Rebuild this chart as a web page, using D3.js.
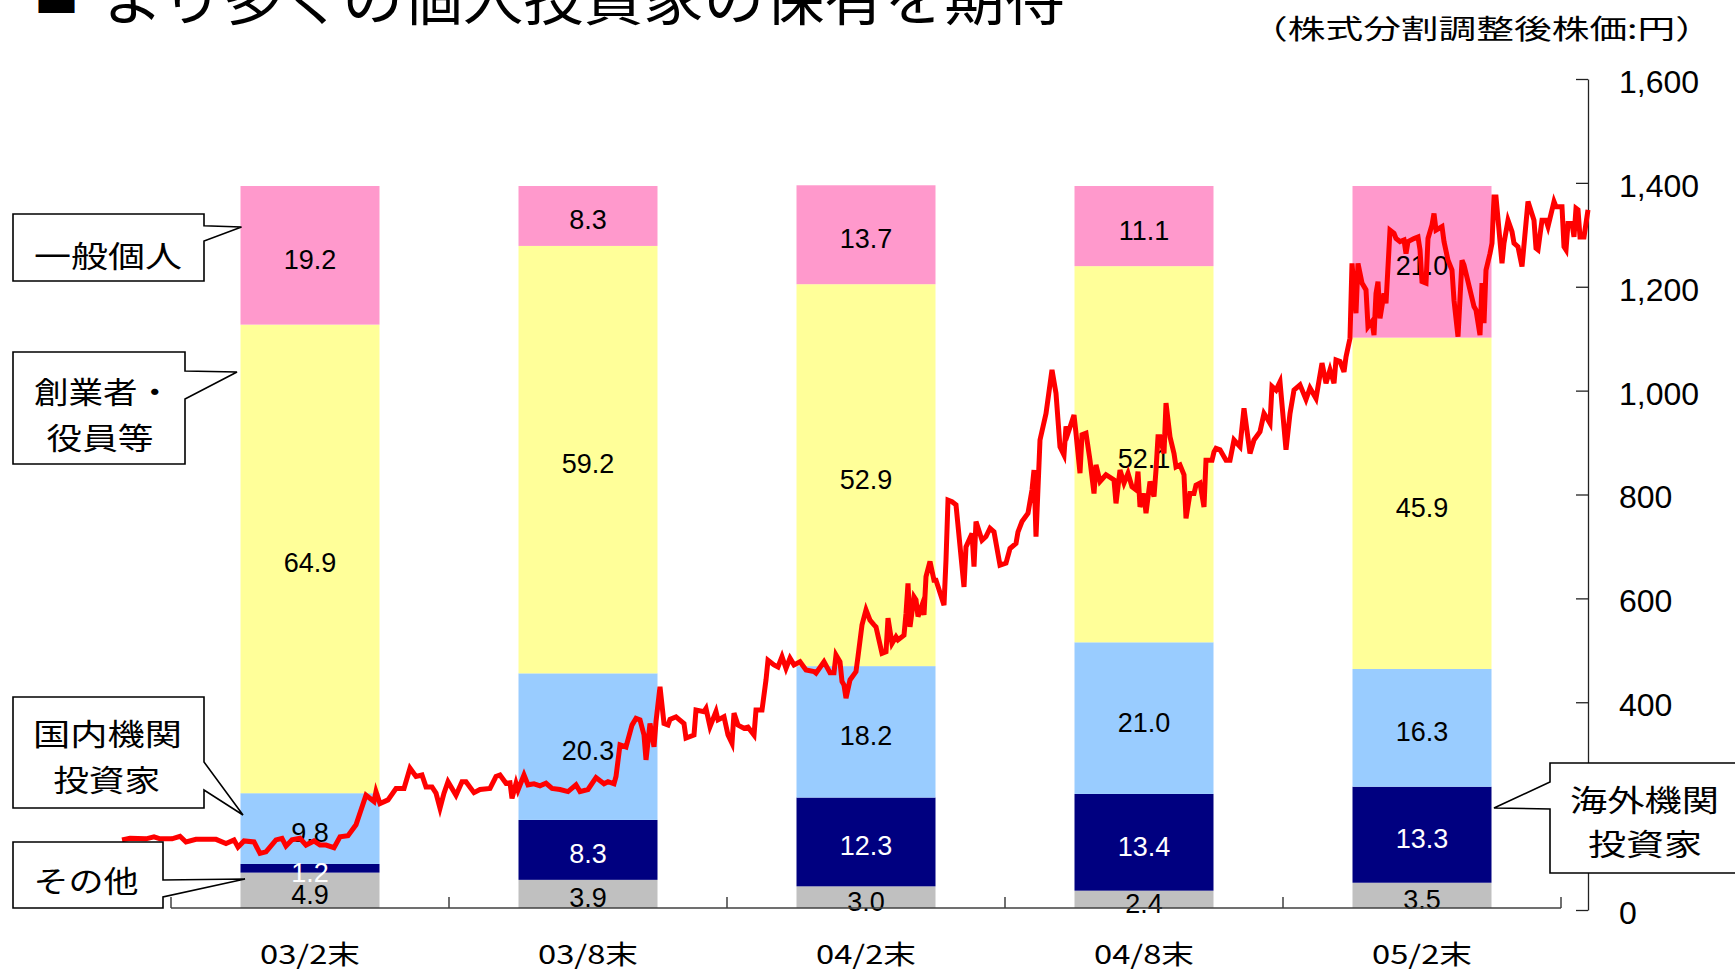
<!DOCTYPE html>
<html>
<head>
<meta charset="utf-8">
<script src="https://cdn.jsdelivr.net/npm/d3@7"></script>
<style>
body { margin: 0; background: #fff; }
svg { display: block; }
.cjk { font-family: "Noto Sans CJK JP", sans-serif; }
.num { font-family: "Liberation Sans", Arial, sans-serif; }
</style>
</head>
<body>
<svg id="chart" width="1735" height="970"></svg>
<script>
// shareholder composition (%), bottom to top
const categories = ["03/2末", "03/8末", "04/2末", "04/8末", "05/2末"];
const shareOther = [4.9, 3.9, 3.0, 2.4, 3.5];
const shareForeign = [1.2, 8.3, 12.3, 13.4, 13.3];
const shareDomestic = [9.8, 20.3, 18.2, 21.0, 16.3];
const shareFounders = [64.9, 59.2, 52.9, 52.1, 45.9];
const shareIndividual = [19.2, 8.3, 13.7, 11.1, 21.0];

const seriesKeys = ["other", "foreign", "domestic", "founders", "individual"];
const seriesColors = ["#C0C0C0", "#000080", "#99CCFF", "#FFFF99", "#FF99CC"];

// split-adjusted share price (yen): [trading day, price]
const stockPrice = [[0,135],[4,138],[12,137],[16,141],[19,137],[25,137],[29,142],[32,131],[37,136],[47,136],[52,128],[56,135],[58,121],[61,133],[66,131],[69,109],[72,112],[77,135],[80,138],[82,123],[85,135],[89,138],[92,125],[96,133],[99,125],[102,125],[106,120],[109,141],[113,143],[117,164],[122,221],[126,209],[127,228],[129,205],[133,212],[137,234],[141,234],[144,273],[147,257],[150,260],[152,237],[155,237],[157,225],[159,196],[161,225],[163,247],[167,221],[170,247],[172,247],[176,226],[179,232],[184,234],[187,257],[189,260],[192,244],[194,245],[195,215],[197,244],[198,231],[201,260],[203,241],[206,243],[209,239],[212,244],[215,234],[219,232],[223,228],[227,241],[229,228],[233,232],[237,255],[241,243],[243,247],[246,243],[247,257],[249,318],[252,314],[255,356],[257,369],[259,366],[261,337],[262,289],[264,359],[266,314],[267,363],[269,430],[271,359],[273,356],[274,367],[277,372],[281,359],[282,331],[286,337],[287,385],[291,382],[292,388],[294,353],[297,382],[298,366],[301,372],[303,337],[305,321],[306,379],[308,356],[311,350],[313,352],[316,337],[317,385],[320,385],[322,443],[323,481],[326,472],[328,468],[330,488],[332,465],[334,485],[336,472],[339,478],[342,462],[346,459],[347,456],[351,478],[354,457],[356,457],[357,491],[359,478],[360,440],[361,433],[362,408],[364,443],[367,459],[368,488],[370,549],[372,578],[374,558],[376,549],[377,545],[380,494],[382,497],[383,562],[385,513],[387,526],[388,520],[391,529],[392,571],[393,629],[394,545],[396,603],[397,597],[398,565],[400,587],[401,568],[402,642],[404,671],[406,635],[407,635],[411,587],[412,674],[413,789],[415,786],[417,780],[421,622],[422,699],[425,725],[426,661],[427,748],[430,712],[432,719],[434,735],[436,728],[439,664],[442,668],[444,696],[447,706],[448,728],[450,748],[453,764],[455,809],[456,847],[457,719],[459,905],[462,956],[465,1040],[467,995],[469,892],[471,876],[472,931],[473,918],[476,953],[477,918],[479,841],[480,915],[482,918],[484,866],[486,802],[487,857],[489,825],[492,838],[496,828],[497,783],[499,847],[501,822],[503,841],[505,815],[507,809],[508,844],[509,776],[511,802],[512,764],[514,825],[516,796],[517,847],[518,911],[519,911],[521,879],[522,976],[524,911],[526,879],[527,853],[529,857],[531,838],[532,754],[534,802],[536,802],[537,818],[539,822],[541,776],[542,866],[545,866],[546,882],[547,889],[549,886],[552,866],[554,866],[556,905],[559,892],[561,966],[564,879],[566,905],[569,921],[571,956],[572,950],[574,937],[575,1008],[577,1001],[579,1017],[582,886],[584,956],[586,1001],[589,1011],[592,983],[594,1005],[597,985],[600,1053],[602,1014],[604,1040],[606,1014],[607,1059],[609,1056],[611,1036],[612,1065],[614,1101],[615,1245],[617,1149],[618,1245],[620,1207],[622,1194],[623,1123],[625,1133],[626,1107],[627,1187],[628,1210],[629,1139],[631,1187],[632,1168],[634,1309],[636,1303],[637,1293],[639,1287],[641,1290],[642,1264],[643,1287],[646,1293],[648,1296],[649,1271],[650,1210],[652,1207],[653,1293],[655,1319],[656,1341],[657,1309],[660,1316],[661,1287],[663,1251],[665,1232],[666,1174],[668,1104],[670,1251],[671,1242],[674,1194],[676,1162],[677,1155],[679,1107],[680,1207],[681,1130],[682,1232],[684,1264],[685,1284],[686,1373],[687,1373],[690,1245],[691,1284],[693,1328],[695,1306],[696,1284],[698,1277],[700,1239],[703,1364],[706,1328],[707,1274],[708,1271],[710,1328],[712,1328],[713,1316],[716,1364],[717,1354],[720,1354],[721,1277],[722,1271],[723,1322],[725,1322],[726,1296],[727,1351],[728,1348],[729,1296],[731,1296],[733,1348]];

const priceTicks = [0, 200, 400, 600, 800, 1000, 1200, 1400, 1600];

const svg = d3.select("#chart");

const x = d3.scaleBand().domain(categories).range([171, 1561]).paddingInner(0.5).paddingOuter(0.25);
const yPct = d3.scaleLinear().domain([0, 100]).range([908, 186]);
const yPrice = d3.scaleLinear().domain([0, 1600]).range([910, 79]);
const xDay = d3.scaleLinear().domain([0, 733]).range([122, 1588]);

const rows = categories.map((c, i) => ({
    cat: c,
    other: shareOther[i],
    foreign: shareForeign[i],
    domestic: shareDomestic[i],
    founders: shareFounders[i],
    individual: shareIndividual[i]
}));
const layers = d3.stack().keys(seriesKeys)(rows);

// bars
const layerG = svg.append("g").selectAll("g")
    .data(layers)
    .enter().append("g")
    .attr("fill", (d, i) => seriesColors[i]);

layerG.selectAll("rect")
    .data(d => d)
    .enter().append("rect")
    .attr("x", d => x(d.data.cat))
    .attr("y", d => yPct(d[1]))
    .attr("width", x.bandwidth())
    .attr("height", d => yPct(d[0]) - yPct(d[1]));

// value labels
layers.forEach(layer => {
    svg.append("g").selectAll("text")
        .data(layer)
        .enter().append("text")
        .attr("class", "num")
        .attr("x", d => x(d.data.cat) + x.bandwidth() / 2)
        .attr("y", d => (yPct(d[0]) + yPct(d[1])) / 2 + 13.5)
        .attr("text-anchor", "middle")
        .attr("font-size", 27)
        .attr("fill", layer.key === "foreign" ? "#fff" : "#000")
        .text(d => d3.format(".1f")(d.data[layer.key]));
});

// category axis
const xAxisG = svg.append("g");
xAxisG.append("line")
    .attr("x1", x.range()[0]).attr("x2", x.range()[1])
    .attr("y1", 908).attr("y2", 908)
    .attr("stroke", "#404040").attr("stroke-width", 1.5);
const bounds = categories.map(c => x(c) - x.step() * x.paddingOuter()).concat([x.range()[1]]);
xAxisG.selectAll(".tick")
    .data(bounds)
    .enter().append("line")
    .attr("x1", d => d).attr("x2", d => d)
    .attr("y1", 897).attr("y2", 908)
    .attr("stroke", "#404040").attr("stroke-width", 1.5);
xAxisG.selectAll("text")
    .data(categories)
    .enter().append("text")
    .attr("class", "cjk")
    .attr("x", d => x(d) + x.bandwidth() / 2)
    .attr("y", 952)
    .attr("text-anchor", "middle")
    .attr("dominant-baseline", "central")
    .attr("font-size", 26)
    .attr("textLength", 100)
    .attr("lengthAdjust", "spacingAndGlyphs")
    .text(d => d);

// price axis on the right
const yAxisG = svg.append("g")
    .attr("transform", "translate(1588,0)")
    .call(d3.axisRight(yPrice)
        .tickValues(priceTicks)
        .tickSizeInner(-12)
        .tickSizeOuter(0)
        .tickPadding(31)
        .tickFormat(d3.format(",")));
yAxisG.select(".domain").attr("stroke", "#222").attr("stroke-width", 1.3);
yAxisG.selectAll(".tick line").attr("stroke", "#222").attr("stroke-width", 1.3);
yAxisG.selectAll(".tick text")
    .attr("class", "num")
    .attr("font-size", 32)
    .attr("fill", "#000")
    .attr("dy", "0.42em");

// price line
svg.append("path")
    .datum(stockPrice)
    .attr("fill", "none")
    .attr("stroke", "#FF0000")
    .attr("stroke-width", 5)
    .attr("d", d3.line().x(d => xDay(d[0])).y(d => yPrice(d[1])));

// callouts
const callouts = [
    { pts: [[13,214],[204,214],[204,225.7],[241.5,227],[204,241],[204,281],[13,281]],
      lines: [{ t: "一般個人", x: 108, y: 254, w: 148 }] },
    { pts: [[13,352],[185,352],[185,371],[237,372],[185,399],[185,464],[13,464]],
      lines: [{ t: "創業者・", x: 103, y: 390, w: 138 }, { t: "役員等", x: 100, y: 436, w: 107 }] },
    { pts: [[13,697],[204,697],[204,762],[243,815],[204,790],[204,808],[13,808]],
      lines: [{ t: "国内機関", x: 107.5, y: 732, w: 149 }, { t: "投資家", x: 106.7, y: 777.5, w: 107 }] },
    { pts: [[13,842],[163,842],[163,880],[245,879],[163,897],[163,908],[13,908]],
      lines: [{ t: "その他", x: 86, y: 879, w: 105 }] },
    { pts: [[1550,763],[1760,763],[1760,873],[1550,873],[1550,809],[1494,808],[1550,782]],
      lines: [{ t: "海外機関", x: 1644.5, y: 798, w: 149 }, { t: "投資家", x: 1645, y: 841.5, w: 114 }] }
];
callouts.forEach(c => {
    svg.append("path")
        .attr("d", d3.line()(c.pts) + "Z")
        .attr("fill", "#fff")
        .attr("stroke", "#000")
        .attr("stroke-width", 1.6);
    c.lines.forEach(l => {
        svg.append("text")
            .attr("class", "cjk")
            .attr("x", l.x).attr("y", l.y)
            .attr("text-anchor", "middle")
            .attr("dominant-baseline", "central")
            .attr("font-size", 30)
            .attr("textLength", l.w)
            .attr("lengthAdjust", "spacingAndGlyphs")
            .text(l.t);
    });
});

// title (cut off at the top edge) and unit label
svg.append("text")
    .attr("class", "cjk")
    .attr("x", 34).attr("y", 13)
    .attr("font-size", 45)
    .text("■");
svg.append("text")
    .attr("class", "cjk")
    .attr("x", 103).attr("y", 20)
    .attr("font-size", 58)
    .attr("textLength", 962)
    .attr("lengthAdjust", "spacingAndGlyphs")
    .text("より多くの個人投資家の保有を期待");
svg.append("text")
    .attr("class", "cjk")
    .attr("x", 1250).attr("y", 27)
    .attr("dominant-baseline", "central")
    .attr("font-size", 27)
    .attr("textLength", 463)
    .attr("lengthAdjust", "spacingAndGlyphs")
    .text("（株式分割調整後株価:円）");
</script>
</body>
</html>
